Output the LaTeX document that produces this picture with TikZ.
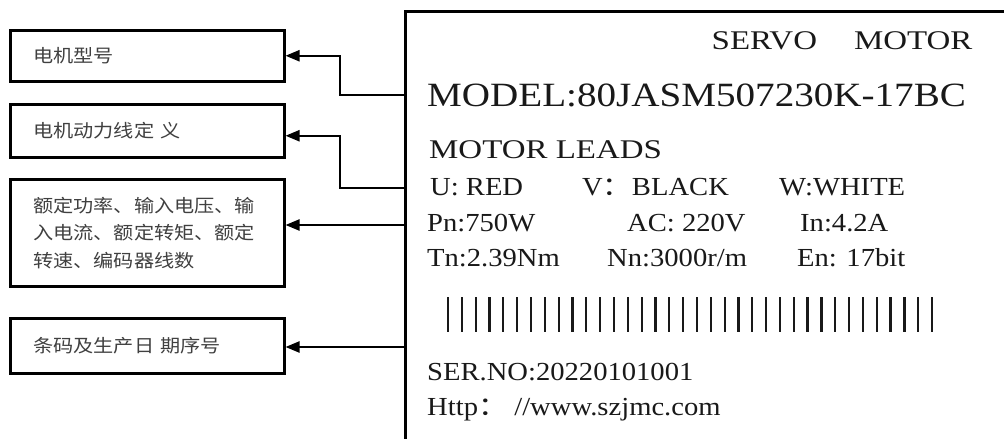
\documentclass[tikz,border=0pt]{standalone}
\usepackage{fontspec}
\setmainfont{Liberation Serif}
\newfontfamily\serwide[FakeStretch=1.22]{Liberation Serif}
\newfontfamily\sermid[FakeStretch=1.15]{Liberation Serif}
\newfontfamily\serfld[FakeStretch=1.1]{Liberation Serif}
\newfontfamily\cjk[FakeStretch=1.12]{Noto Sans CJK SC}
\usetikzlibrary{arrows.meta}
\begin{document}
\begin{tikzpicture}[x=1pt,y=1pt,
  infobox/.style={draw=black, line width=2.5pt, anchor=north west,
    minimum width=274pt, text width=228pt, inner xsep=23pt, inner ysep=0pt,
    align=left, text=black!75, font=\cjk\fontsize{18}{27.5}\selectfont},
  panelbox/.style={draw=black, line width=2.5pt, anchor=north west, inner sep=0pt,
    minimum width=640pt, minimum height=470pt},
  arr/.style={draw=black, line width=2.2pt, -{Triangle[length=14pt,width=11pt]}},
  big/.style={anchor=base west, inner sep=0pt, text=black!90, font=\serwide\fontsize{27}{27}\selectfont},
  model/.style={anchor=base west, inner sep=0pt, text=black!90, font=\sermid\fontsize{34}{34}\selectfont},
  fld/.style={anchor=base west, inner sep=0pt, text=black!90, font=\serfld\fontsize{26}{26}\selectfont},
  barline/.style={draw=black!90, line width=2.2pt}]
\useasboundingbox (0,0) rectangle (1004,-439);
\fill[white] (0,0) rectangle (1004,-439);

% panel (nameplate)
\node[panelbox] (panel) at (404,-10) {};

% left boxes
\node[infobox, minimum height=51pt] (b1) at (9,-29) {电机型号};
\node[infobox, minimum height=53pt] (b2) at (9,-103) {电机动力线定 义};
\node[infobox, minimum height=107pt] (b3) at (9,-178) {额定功率、输入电压、输\\入电流、额定转矩、额定\\转速、编码器线数};
\node[infobox, minimum height=55pt] (b4) at (9,-317) {条码及生产日 期序号};

% nameplate texts
\node[big] (t1) at (711.5,-49) {SERVO\hspace{37pt}MOTOR};
\node[model] (t2) at (427,-106.5) {MODEL:80JASM507230K-17BC};
\node[big] (t3) at (429,-158.5) {MOTOR LEADS};
\node[fld] (u) at (430,-195) {U: RED};
\node[fld] (v) at (582,-195) {V{\cjk ：}BLACK};
\node[fld] (w) at (779,-195) {W:WHITE};
\node[fld] (pn) at (427,-231) {Pn:750W};
\node[fld] (ac) at (627,-231) {AC: 220V};
\node[fld] (in) at (800,-231) {In:4.2A};
\node[fld] (tn) at (427,-266) {Tn:2.39Nm};
\node[fld] (nn) at (607,-266) {Nn:3000r/m};
\node[fld] (en) at (797,-266) {En: 17bit};
\node[fld] (ser) at (427,-380) {SER.NO:20220101001};
\node[fld] (http) at (427,-415) {Http{\cjk ：} //www.szjmc.com};

% barcode
\foreach \i in {0,...,35} {
  \draw[barline] (448+\i*13.83,-297) -- (448+\i*13.83,-332);
}

% connectors
\coordinate (p1) at ([yshift=-85pt]panel.north west);
\coordinate (p2) at ([yshift=-178pt]panel.north west);
\coordinate (p3) at ([yshift=-215pt]panel.north west);
\coordinate (p4) at ([yshift=-337pt]panel.north west);
\draw[arr] (p1) -- ++(-64,0) |- (b1.east);
\draw[arr] (p2) -- ++(-64,0) |- ([yshift=-5pt]b2.east);
\draw[arr] (p3) -- (p3 -| b3.east);
\draw[arr] (p4) -- (p4 -| b4.east);
\end{tikzpicture}
\end{document}
